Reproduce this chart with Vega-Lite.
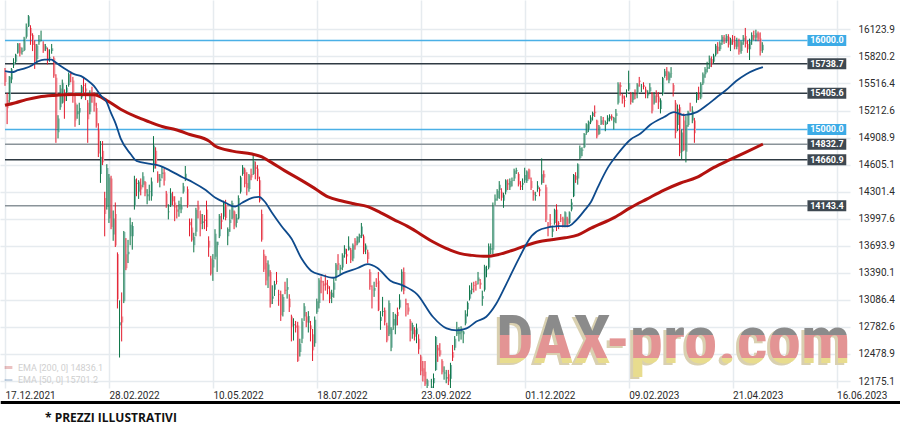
{
"$schema": "https://vega.github.io/schema/vega-lite/v6.json",
"width": 850, "height": 388,
"autosize": {"type": "none"},
"padding": {"left": 0, "top": 0, "right": 50, "bottom": 37},
"background": "white",
"config": {"view": {"stroke": null}, "font": "Roboto",
 "axis": {"domain": false, "ticks": false, "gridColor": "#e6ebef", "gridWidth": 1.5, "labelColor": "#2b2b2b", "labelFontSize": 10, "labelFont": "Roboto", "title": null, "labelOverlap": false, "labelFlush": false, "labelBound": false}},
"title": {"text": "* PREZZI ILLUSTRATIVI", "orient": "bottom", "anchor": "start", "frame": "group", "dx": 45, "offset": 9, "fontSize": 12, "fontWeight": "bold", "font": "Open Sans", "color": "#111111"},
"datasets": {
"candles": [
{"i":0,"o":15640,"h":15690,"l":15490,"c":15532},{"i":1,"o":15330,"h":15410,"l":15060,"c":15239},{"i":2,"o":15330,"h":15600,"l":15300,"c":15593},{"i":3,"o":15560,"h":15690,"l":15520,"c":15676},{"i":4,"o":15720,"h":15800,"l":15690,"c":15756},{"i":5,"o":15760,"h":15850,"l":15740,"c":15838},{"i":6,"o":15860,"h":15970,"l":15850,"c":15964},{"i":7,"o":15930,"h":15970,"l":15820,"c":15853},{"i":8,"o":15870,"h":15920,"l":15840,"c":15885},{"i":9,"o":15890,"h":16040,"l":15880,"c":16021},
{"i":10,"o":16040,"h":16190,"l":16020,"c":16152},{"i":11,"o":16160,"h":16285,"l":16150,"c":16271},{"i":12,"o":16140,"h":16170,"l":15950,"c":16053},{"i":13,"o":16060,"h":16080,"l":15880,"c":15948},{"i":14,"o":15960,"h":16000,"l":15680,"c":15768},{"i":15,"o":15790,"h":15960,"l":15740,"c":15942},{"i":16,"o":15980,"h":16060,"l":15950,"c":16010},{"i":17,"o":16030,"h":16110,"l":15990,"c":16031},{"i":18,"o":15960,"h":15990,"l":15860,"c":15883},{"i":19,"o":15900,"h":15960,"l":15880,"c":15933},
{"i":20,"o":15900,"h":15920,"l":15730,"c":15773},{"i":21,"o":15800,"h":15900,"l":15760,"c":15810},{"i":22,"o":15880,"h":15960,"l":15850,"c":15912},{"i":23,"o":15800,"h":15820,"l":15580,"c":15603},{"i":24,"o":15580,"h":15620,"l":14850,"c":15011},{"i":25,"o":14970,"h":15160,"l":14900,"c":15124},{"i":26,"o":15250,"h":15500,"l":15220,"c":15460},{"i":27,"o":15300,"h":15560,"l":15290,"c":15524},{"i":28,"o":15400,"h":15450,"l":15120,"c":15318},{"i":29,"o":15420,"h":15500,"l":15320,"c":15471},
{"i":30,"o":15500,"h":15640,"l":15480,"c":15619},{"i":31,"o":15630,"h":15650,"l":15530,"c":15613},{"i":32,"o":15550,"h":15590,"l":15300,"c":15368},{"i":33,"o":15300,"h":15390,"l":15030,"c":15100},{"i":34,"o":15170,"h":15280,"l":15120,"c":15206},{"i":35,"o":15190,"h":15300,"l":15050,"c":15242},{"i":36,"o":15360,"h":15500,"l":15340,"c":15482},{"i":37,"o":15500,"h":15590,"l":15390,"c":15490},{"i":38,"o":15460,"h":15520,"l":15330,"c":15425},{"i":39,"o":15300,"h":15330,"l":14850,"c":15114},
{"i":40,"o":15200,"h":15440,"l":15170,"c":15412},{"i":41,"o":15400,"h":15480,"l":15300,"c":15370},{"i":42,"o":15380,"h":15420,"l":15200,"c":15267},{"i":43,"o":15240,"h":15300,"l":15020,"c":15042},{"i":44,"o":15000,"h":15070,"l":14690,"c":14731},{"i":45,"o":14500,"h":14870,"l":14400,"c":14693},{"i":46,"o":14760,"h":14870,"l":14600,"c":14631},{"i":47,"o":14230,"h":14300,"l":13800,"c":14052},{"i":48,"o":14130,"h":14610,"l":14100,"c":14567},{"i":49,"o":14000,"h":14500,"l":13950,"c":14461},
{"i":50,"o":14450,"h":14480,"l":13880,"c":13905},{"i":51,"o":13820,"h":14090,"l":13750,"c":14000},{"i":52,"o":14050,"h":14180,"l":13680,"c":13698},{"i":53,"o":13600,"h":13620,"l":12990,"c":13094},{"i":54,"o":12800,"h":13080,"l":12439,"c":12835},{"i":55,"o":12900,"h":13170,"l":12620,"c":12831},{"i":56,"o":13070,"h":13860,"l":13050,"c":13848},{"i":57,"o":13600,"h":13780,"l":13420,"c":13442},{"i":58,"o":13600,"h":13760,"l":13500,"c":13628},{"i":59,"o":13800,"h":14010,"l":13700,"c":13929},
{"i":60,"o":13800,"h":13960,"l":13650,"c":13917},{"i":61,"o":14150,"h":14480,"l":14100,"c":14441},{"i":62,"o":14400,"h":14450,"l":14250,"c":14388},{"i":63,"o":14300,"h":14430,"l":14220,"c":14413},{"i":64,"o":14380,"h":14450,"l":14260,"c":14326},{"i":65,"o":14380,"h":14520,"l":14350,"c":14474},{"i":66,"o":14410,"h":14420,"l":14250,"c":14283},{"i":67,"o":14250,"h":14330,"l":14160,"c":14273},{"i":68,"o":14300,"h":14380,"l":14200,"c":14305},{"i":69,"o":14250,"h":14460,"l":14200,"c":14417},
{"i":70,"o":14560,"h":14925,"l":14520,"c":14820},{"i":71,"o":14760,"h":14800,"l":14560,"c":14605},{"i":72,"o":14500,"h":14530,"l":14400,"c":14415},{"i":73,"o":14420,"h":14500,"l":14350,"c":14446},{"i":74,"o":14500,"h":14580,"l":14450,"c":14518},{"i":75,"o":14520,"h":14560,"l":14370,"c":14424},{"i":76,"o":14280,"h":14310,"l":14120,"c":14152},{"i":77,"o":14070,"h":14160,"l":13990,"c":14078},{"i":78,"o":14150,"h":14340,"l":14130,"c":14284},{"i":79,"o":14250,"h":14300,"l":14150,"c":14193},
{"i":80,"o":14180,"h":14250,"l":13970,"c":14124},{"i":81,"o":14100,"h":14150,"l":14000,"c":14076},{"i":82,"o":14100,"h":14200,"l":14020,"c":14163},{"i":83,"o":14100,"h":14240,"l":14060,"c":14153},{"i":84,"o":14300,"h":14400,"l":14280,"c":14362},{"i":85,"o":14450,"h":14590,"l":14420,"c":14502},{"i":86,"o":14330,"h":14360,"l":14120,"c":14142},{"i":87,"o":13960,"h":14000,"l":13800,"c":13924},{"i":88,"o":13900,"h":14000,"l":13740,"c":13756},{"i":89,"o":13700,"h":13840,"l":13620,"c":13793},
{"i":90,"o":13850,"h":14120,"l":13800,"c":14098},{"i":91,"o":14150,"h":14200,"l":14000,"c":14098},{"i":92,"o":14050,"h":14090,"l":13800,"c":13939},{"i":93,"o":13950,"h":14050,"l":13880,"c":13970},{"i":94,"o":13990,"h":14040,"l":13880,"c":13971},{"i":95,"o":14100,"h":14200,"l":13860,"c":13903},{"i":96,"o":13750,"h":13800,"l":13570,"c":13674},{"i":97,"o":13550,"h":13580,"l":13360,"c":13381},{"i":98,"o":13450,"h":13600,"l":13300,"c":13534},{"i":99,"o":13570,"h":13880,"l":13540,"c":13828},
{"i":100,"o":13700,"h":13740,"l":13400,"c":13739},{"i":101,"o":13800,"h":14050,"l":13780,"c":14027},{"i":102,"o":13980,"h":14060,"l":13880,"c":13964},{"i":103,"o":14020,"h":14200,"l":13990,"c":14186},{"i":104,"o":14150,"h":14210,"l":13980,"c":14007},{"i":105,"o":13800,"h":13900,"l":13700,"c":13882},{"i":106,"o":13950,"h":14100,"l":13850,"c":13982},{"i":107,"o":14000,"h":14200,"l":13990,"c":14175},{"i":108,"o":14080,"h":14090,"l":13880,"c":13919},{"i":109,"o":13950,"h":14050,"l":13900,"c":14008},
{"i":110,"o":14000,"h":14260,"l":13990,"c":14231},{"i":111,"o":14300,"h":14480,"l":14280,"c":14462},{"i":112,"o":14500,"h":14600,"l":14480,"c":14575},{"i":113,"o":14550,"h":14570,"l":14350,"c":14388},{"i":114,"o":14400,"h":14520,"l":14260,"c":14340},{"i":115,"o":14330,"h":14500,"l":14300,"c":14485},{"i":116,"o":14500,"h":14560,"l":14430,"c":14460},{"i":117,"o":14500,"h":14710,"l":14490,"c":14653},{"i":118,"o":14580,"h":14640,"l":14440,"c":14556},{"i":119,"o":14560,"h":14600,"l":14420,"c":14445},
{"i":120,"o":14430,"h":14470,"l":14180,"c":14198},{"i":121,"o":14050,"h":14100,"l":13740,"c":13761},{"i":122,"o":13600,"h":13650,"l":13400,"c":13427},{"i":123,"o":13500,"h":13580,"l":13250,"c":13304},{"i":124,"o":13350,"h":13530,"l":13220,"c":13483},{"i":125,"o":13400,"h":13420,"l":13000,"c":13038},{"i":126,"o":13100,"h":13250,"l":13040,"c":13126},{"i":127,"o":13200,"h":13300,"l":13130,"c":13265},{"i":128,"o":13300,"h":13400,"l":13260,"c":13292},{"i":129,"o":13150,"h":13200,"l":13020,"c":13145},
{"i":130,"o":13150,"h":13190,"l":12850,"c":12913},{"i":131,"o":12950,"h":13150,"l":12900,"c":13118},{"i":132,"o":13200,"h":13290,"l":13150,"c":13186},{"i":133,"o":13200,"h":13330,"l":13100,"c":13231},{"i":134,"o":13100,"h":13150,"l":12950,"c":13003},{"i":135,"o":12900,"h":12920,"l":12620,"c":12784},{"i":136,"o":12800,"h":12880,"l":12630,"c":12813},{"i":137,"o":12800,"h":12850,"l":12720,"c":12773},{"i":138,"o":12800,"h":12840,"l":12390,"c":12401},{"i":139,"o":12500,"h":12650,"l":12450,"c":12594},
{"i":140,"o":12650,"h":12880,"l":12600,"c":12843},{"i":141,"o":12900,"h":13050,"l":12850,"c":13015},{"i":142,"o":12900,"h":12950,"l":12780,"c":12833},{"i":143,"o":12830,"h":12960,"l":12720,"c":12905},{"i":144,"o":12800,"h":12850,"l":12620,"c":12756},{"i":145,"o":12700,"h":12760,"l":12400,"c":12519},{"i":146,"o":12600,"h":12900,"l":12560,"c":12864},{"i":147,"o":12950,"h":13100,"l":12930,"c":13071},{"i":148,"o":13050,"h":13330,"l":12990,"c":13308},{"i":149,"o":13300,"h":13350,"l":13160,"c":13282},
{"i":150,"o":13270,"h":13300,"l":13080,"c":13246},{"i":151,"o":13280,"h":13370,"l":13190,"c":13254},{"i":152,"o":13250,"h":13310,"l":13150,"c":13210},{"i":153,"o":13180,"h":13240,"l":13050,"c":13097},{"i":154,"o":13120,"h":13200,"l":13050,"c":13166},{"i":155,"o":13200,"h":13330,"l":13110,"c":13282},{"i":156,"o":13350,"h":13500,"l":13300,"c":13484},{"i":157,"o":13500,"h":13600,"l":13420,"c":13479},{"i":158,"o":13430,"h":13480,"l":13370,"c":13449},{"i":159,"o":13450,"h":13610,"l":13420,"c":13587},
{"i":160,"o":13600,"h":13700,"l":13560,"c":13662},{"i":161,"o":13600,"h":13660,"l":13490,"c":13574},{"i":162,"o":13650,"h":13800,"l":13640,"c":13687},{"i":163,"o":13650,"h":13670,"l":13500,"c":13535},{"i":164,"o":13550,"h":13720,"l":13520,"c":13700},{"i":165,"o":13750,"h":13780,"l":13650,"c":13694},{"i":166,"o":13720,"h":13800,"l":13700,"c":13795},{"i":167,"o":13780,"h":13830,"l":13730,"c":13816},{"i":168,"o":13800,"h":13950,"l":13780,"c":13910},{"i":169,"o":13800,"h":13820,"l":13600,"c":13626},
{"i":170,"o":13650,"h":13720,"l":13600,"c":13697},{"i":171,"o":13620,"h":13650,"l":13500,"c":13544},{"i":172,"o":13400,"h":13430,"l":13200,"c":13230},{"i":173,"o":13200,"h":13250,"l":12990,"c":13195},{"i":174,"o":13190,"h":13290,"l":13120,"c":13221},{"i":175,"o":13280,"h":13330,"l":13230,"c":13271},{"i":176,"o":13300,"h":13400,"l":12960,"c":12971},{"i":177,"o":12850,"h":12960,"l":12750,"c":12893},{"i":178,"o":12950,"h":13120,"l":12900,"c":12961},{"i":179,"o":12970,"h":13000,"l":12800,"c":12835},
{"i":180,"o":12800,"h":12830,"l":12610,"c":12630},{"i":181,"o":12700,"h":13080,"l":12680,"c":13050},{"i":182,"o":12550,"h":12780,"l":12510,"c":12761},{"i":183,"o":12800,"h":12950,"l":12750,"c":12871},{"i":184,"o":12800,"h":12930,"l":12700,"c":12916},{"i":185,"o":12950,"h":13000,"l":12800,"c":12904},{"i":186,"o":13000,"h":13150,"l":12980,"c":13088},{"i":187,"o":13200,"h":13430,"l":13180,"c":13402},{"i":188,"o":13400,"h":13450,"l":13150,"c":13189},{"i":189,"o":13050,"h":13100,"l":12900,"c":13028},
{"i":190,"o":13000,"h":13050,"l":12920,"c":12956},{"i":191,"o":12850,"h":12870,"l":12620,"c":12741},{"i":192,"o":12700,"h":12830,"l":12650,"c":12803},{"i":193,"o":12750,"h":12780,"l":12630,"c":12671},{"i":194,"o":12700,"h":12820,"l":12600,"c":12767},{"i":195,"o":12650,"h":12700,"l":12480,"c":12531},{"i":196,"o":12450,"h":12470,"l":12240,"c":12284},{"i":197,"o":12320,"h":12400,"l":12170,"c":12228},{"i":198,"o":12280,"h":12400,"l":12120,"c":12140},{"i":199,"o":12120,"h":12200,"l":11990,"c":12183},
{"i":200,"o":12050,"h":12080,"l":11860,"c":11976},{"i":201,"o":12000,"h":12200,"l":11960,"c":12114},{"i":202,"o":12150,"h":12260,"l":12000,"c":12209},{"i":203,"o":12300,"h":12680,"l":12290,"c":12670},{"i":204,"o":12550,"h":12580,"l":12390,"c":12517},{"i":205,"o":12520,"h":12600,"l":12450,"c":12470},{"i":206,"o":12400,"h":12420,"l":12250,"c":12273},{"i":207,"o":12260,"h":12340,"l":12190,"c":12272},{"i":208,"o":12200,"h":12300,"l":12150,"c":12220},{"i":209,"o":12250,"h":12300,"l":12130,"c":12172},
{"i":210,"o":12200,"h":12380,"l":11950,"c":12356},{"i":211,"o":12500,"h":12580,"l":12400,"c":12437},{"i":212,"o":12550,"h":12680,"l":12520,"c":12649},{"i":213,"o":12700,"h":12840,"l":12680,"c":12765},{"i":214,"o":12700,"h":12780,"l":12620,"c":12741},{"i":215,"o":12720,"h":12790,"l":12640,"c":12767},{"i":216,"o":12700,"h":12740,"l":12600,"c":12731},{"i":217,"o":12820,"h":12970,"l":12800,"c":12931},{"i":218,"o":12980,"h":13070,"l":12900,"c":13053},{"i":219,"o":13100,"h":13250,"l":13080,"c":13195},
{"i":220,"o":13200,"h":13280,"l":13150,"c":13211},{"i":221,"o":13250,"h":13290,"l":13170,"c":13243},{"i":222,"o":13270,"h":13300,"l":13190,"c":13253},{"i":223,"o":13300,"h":13400,"l":13260,"c":13338},{"i":224,"o":13280,"h":13320,"l":13210,"c":13256},{"i":225,"o":13100,"h":13190,"l":13020,"c":13130},{"i":226,"o":13200,"h":13480,"l":13180,"c":13460},{"i":227,"o":13420,"h":13470,"l":13340,"c":13428},{"i":228,"o":13450,"h":13720,"l":13430,"c":13688},{"i":229,"o":13650,"h":13720,"l":13600,"c":13666},
{"i":230,"o":13650,"h":14180,"l":13600,"c":14146},{"i":231,"o":14200,"h":14270,"l":14150,"c":14224},{"i":232,"o":14230,"h":14330,"l":14200,"c":14313},{"i":233,"o":14320,"h":14420,"l":14220,"c":14379},{"i":234,"o":14300,"h":14340,"l":14200,"c":14234},{"i":235,"o":14200,"h":14290,"l":14120,"c":14266},{"i":236,"o":14300,"h":14440,"l":14270,"c":14431},{"i":237,"o":14400,"h":14440,"l":14320,"c":14380},{"i":238,"o":14350,"h":14450,"l":14320,"c":14422},{"i":239,"o":14420,"h":14460,"l":14360,"c":14428},
{"i":240,"o":14450,"h":14560,"l":14420,"c":14539},{"i":241,"o":14530,"h":14570,"l":14500,"c":14541},{"i":242,"o":14500,"h":14520,"l":14360,"c":14383},{"i":243,"o":14370,"h":14420,"l":14320,"c":14355},{"i":244,"o":14380,"h":14450,"l":14320,"c":14397},{"i":245,"o":14430,"h":14570,"l":14400,"c":14490},{"i":246,"o":14420,"h":14540,"l":14400,"c":14529},{"i":247,"o":14550,"h":14560,"l":14440,"c":14447},{"i":248,"o":14420,"h":14460,"l":14320,"c":14343},{"i":249,"o":14300,"h":14320,"l":14200,"c":14261},
{"i":250,"o":14250,"h":14300,"l":14200,"c":14264},{"i":251,"o":14330,"h":14420,"l":14300,"c":14370},{"i":252,"o":14330,"h":14350,"l":14250,"c":14306},{"i":253,"o":14400,"h":14675,"l":14380,"c":14497},{"i":254,"o":14500,"h":14540,"l":14400,"c":14460},{"i":255,"o":14350,"h":14380,"l":13960,"c":13987},{"i":256,"o":13900,"h":13960,"l":13800,"c":13893},{"i":257,"o":13950,"h":14050,"l":13900,"c":13943},{"i":258,"o":13850,"h":13920,"l":13790,"c":13885},{"i":259,"o":13950,"h":14110,"l":13930,"c":14098},
{"i":260,"o":14100,"h":14160,"l":13860,"c":13914},{"i":261,"o":13950,"h":13970,"l":13880,"c":13941},{"i":262,"o":14000,"h":14050,"l":13960,"c":13995},{"i":263,"o":14000,"h":14020,"l":13900,"c":13925},{"i":264,"o":13930,"h":14080,"l":13900,"c":14071},{"i":265,"o":14000,"h":14020,"l":13900,"c":13924},{"i":266,"o":13950,"h":14080,"l":13940,"c":14069},{"i":267,"o":14100,"h":14220,"l":14080,"c":14181},{"i":268,"o":14250,"h":14500,"l":14240,"c":14490},{"i":269,"o":14480,"h":14520,"l":14400,"c":14436},
{"i":270,"o":14450,"h":14620,"l":14380,"c":14610},{"i":271,"o":14680,"h":14820,"l":14660,"c":14792},{"i":272,"o":14760,"h":14800,"l":14700,"c":14775},{"i":273,"o":14800,"h":14960,"l":14790,"c":14948},{"i":274,"o":14960,"h":15070,"l":14940,"c":15058},{"i":275,"o":15000,"h":15100,"l":14970,"c":15086},{"i":276,"o":15080,"h":15160,"l":15060,"c":15135},{"i":277,"o":15150,"h":15200,"l":15100,"c":15187},{"i":278,"o":15200,"h":15270,"l":15140,"c":15181},{"i":279,"o":15100,"h":15110,"l":14900,"c":14920},
{"i":280,"o":14950,"h":15050,"l":14940,"c":15033},{"i":281,"o":15060,"h":15150,"l":15050,"c":15103},{"i":282,"o":15100,"h":15140,"l":15050,"c":15093},{"i":283,"o":15050,"h":15100,"l":14980,"c":15081},{"i":284,"o":15090,"h":15160,"l":15060,"c":15132},{"i":285,"o":15120,"h":15170,"l":15090,"c":15150},{"i":286,"o":15150,"h":15170,"l":15100,"c":15126},{"i":287,"o":15080,"h":15140,"l":15000,"c":15128},{"i":288,"o":15150,"h":15230,"l":15070,"c":15181},{"i":289,"o":15300,"h":15530,"l":15280,"c":15509},
{"i":290,"o":15500,"h":15530,"l":15380,"c":15476},{"i":291,"o":15380,"h":15400,"l":15290,"c":15345},{"i":292,"o":15330,"h":15380,"l":15250,"c":15321},{"i":293,"o":15400,"h":15450,"l":15360,"c":15412},{"i":294,"o":15450,"h":15660,"l":15430,"c":15523},{"i":295,"o":15400,"h":15420,"l":15280,"c":15308},{"i":296,"o":15330,"h":15420,"l":15300,"c":15397},{"i":297,"o":15400,"h":15450,"l":15340,"c":15380},{"i":298,"o":15400,"h":15520,"l":15350,"c":15506},{"i":299,"o":15550,"h":15590,"l":15480,"c":15534},
{"i":300,"o":15480,"h":15510,"l":15420,"c":15482},{"i":301,"o":15500,"h":15530,"l":15450,"c":15477},{"i":302,"o":15450,"h":15480,"l":15350,"c":15399},{"i":303,"o":15380,"h":15440,"l":15350,"c":15400},{"i":304,"o":15430,"h":15520,"l":15400,"c":15475},{"i":305,"o":15400,"h":15420,"l":15180,"c":15210},{"i":306,"o":15300,"h":15420,"l":15280,"c":15381},{"i":307,"o":15400,"h":15440,"l":15300,"c":15365},{"i":308,"o":15370,"h":15420,"l":15230,"c":15305},{"i":309,"o":15230,"h":15350,"l":15180,"c":15327},
{"i":310,"o":15400,"h":15590,"l":15380,"c":15578},{"i":311,"o":15600,"h":15680,"l":15580,"c":15654},{"i":312,"o":15660,"h":15700,"l":15550,"c":15559},{"i":313,"o":15550,"h":15650,"l":15520,"c":15631},{"i":314,"o":15630,"h":15700,"l":15580,"c":15633},{"i":315,"o":15500,"h":15520,"l":15370,"c":15428},{"i":316,"o":15300,"h":15330,"l":14900,"c":14959},{"i":317,"o":15050,"h":15280,"l":14980,"c":15232},{"i":318,"o":15250,"h":15280,"l":14700,"c":14735},{"i":319,"o":14750,"h":15000,"l":14660,"c":14967},
{"i":320,"o":15100,"h":15180,"l":14760,"c":14768},{"i":321,"o":14750,"h":15150,"l":14630,"c":15050},{"i":322,"o":15050,"h":15210,"l":15030,"c":15195},{"i":323,"o":15220,"h":15300,"l":15200,"c":15216},{"i":324,"o":15100,"h":15260,"l":15070,"c":15210},{"i":325,"o":15100,"h":15130,"l":14850,"c":14957},{"i":326,"o":15330,"h":15420,"l":15300,"c":15400},{"i":327,"o":15400,"h":15480,"l":15330,"c":15350},{"i":328,"o":15360,"h":15530,"l":15340,"c":15510},{"i":329,"o":15520,"h":15640,"l":15500,"c":15620},
{"i":330,"o":15620,"h":15700,"l":15580,"c":15680},{"i":331,"o":15680,"h":15760,"l":15640,"c":15700},{"i":332,"o":15700,"h":15830,"l":15680,"c":15800},{"i":333,"o":15790,"h":15820,"l":15700,"c":15740},{"i":334,"o":15760,"h":15850,"l":15740,"c":15830},{"i":335,"o":15840,"h":15960,"l":15820,"c":15940},{"i":336,"o":15930,"h":15980,"l":15850,"c":15880},{"i":337,"o":15900,"h":15990,"l":15880,"c":15970},{"i":338,"o":15980,"h":16060,"l":15950,"c":16040},{"i":339,"o":16030,"h":16060,"l":15960,"c":15990},
{"i":340,"o":16000,"h":16070,"l":15970,"c":16050},{"i":341,"o":16040,"h":16070,"l":15920,"c":15950},{"i":342,"o":15950,"h":16030,"l":15880,"c":16010},{"i":343,"o":16010,"h":16060,"l":15950,"c":15980},{"i":344,"o":15990,"h":16050,"l":15900,"c":15930},{"i":345,"o":15930,"h":16030,"l":15900,"c":16000},{"i":346,"o":15990,"h":16020,"l":15840,"c":15870},{"i":347,"o":15880,"h":16000,"l":15850,"c":15980},{"i":348,"o":15990,"h":16060,"l":15950,"c":16030},{"i":349,"o":16050,"h":16140,"l":15920,"c":15960},
{"i":350,"o":15960,"h":16000,"l":15860,"c":15900},{"i":351,"o":15900,"h":16020,"l":15780,"c":15990},{"i":352,"o":15990,"h":16090,"l":15950,"c":16060},{"i":353,"o":16060,"h":16110,"l":16000,"c":16030},{"i":354,"o":16030,"h":16120,"l":15990,"c":16080},{"i":355,"o":16080,"h":16100,"l":15990,"c":16010},{"i":356,"o":16020,"h":16090,"l":15830,"c":15880},{"i":357,"o":15890,"h":15980,"l":15860,"c":15950}
],
"ema": [
{"s":"EMA [200, 0] 14836.1","i":0,"v":15271},{"s":"EMA [200, 0] 14836.1","i":5,"v":15300},{"s":"EMA [200, 0] 14836.1","i":10,"v":15335},{"s":"EMA [200, 0] 14836.1","i":16,"v":15365},{"s":"EMA [200, 0] 14836.1","i":23,"v":15382},{"s":"EMA [200, 0] 14836.1","i":32,"v":15392},{"s":"EMA [200, 0] 14836.1","i":42,"v":15390},{"s":"EMA [200, 0] 14836.1","i":48,"v":15325},{"s":"EMA [200, 0] 14836.1","i":54.5,"v":15227},{"s":"EMA [200, 0] 14836.1","i":62,"v":15140},{"s":"EMA [200, 0] 14836.1","i":68,"v":15085},{"s":"EMA [200, 0] 14836.1","i":74.5,"v":15030},{"s":"EMA [200, 0] 14836.1","i":80.6,"v":14997},{"s":"EMA [200, 0] 14836.1","i":87.1,"v":14943},{"s":"EMA [200, 0] 14836.1","i":96.4,"v":14866},{"s":"EMA [200, 0] 14836.1","i":99.2,"v":14811},{"s":"EMA [200, 0] 14836.1","i":107.2,"v":14757},{"s":"EMA [200, 0] 14836.1","i":116.5,"v":14724},{"s":"EMA [200, 0] 14836.1","i":121.1,"v":14691},{"s":"EMA [200, 0] 14836.1","i":124.4,"v":14647},{"s":"EMA [200, 0] 14836.1","i":131.8,"v":14538},{"s":"EMA [200, 0] 14836.1","i":139.8,"v":14428},{"s":"EMA [200, 0] 14836.1","i":145.8,"v":14341},{"s":"EMA [200, 0] 14836.1","i":152.3,"v":14242},{"s":"EMA [200, 0] 14836.1","i":158.4,"v":14199},{"s":"EMA [200, 0] 14836.1","i":164.5,"v":14166},{"s":"EMA [200, 0] 14836.1","i":171,"v":14133},{"s":"EMA [200, 0] 14836.1","i":177,"v":14067},{"s":"EMA [200, 0] 14836.1","i":183.1,"v":13991},{"s":"EMA [200, 0] 14836.1","i":189.6,"v":13914},{"s":"EMA [200, 0] 14836.1","i":195.7,"v":13827},{"s":"EMA [200, 0] 14836.1","i":201.7,"v":13739},{"s":"EMA [200, 0] 14836.1","i":208.2,"v":13663},{"s":"EMA [200, 0] 14836.1","i":214.3,"v":13608},{"s":"EMA [200, 0] 14836.1","i":220.4,"v":13586},{"s":"EMA [200, 0] 14836.1","i":226.9,"v":13575},{"s":"EMA [200, 0] 14836.1","i":232.9,"v":13597},{"s":"EMA [200, 0] 14836.1","i":239,"v":13641},{"s":"EMA [200, 0] 14836.1","i":245.5,"v":13696},{"s":"EMA [200, 0] 14836.1","i":251.6,"v":13739},{"s":"EMA [200, 0] 14836.1","i":257.6,"v":13761},{"s":"EMA [200, 0] 14836.1","i":264.1,"v":13783},{"s":"EMA [200, 0] 14836.1","i":270.2,"v":13816},{"s":"EMA [200, 0] 14836.1","i":276.3,"v":13892},{"s":"EMA [200, 0] 14836.1","i":287.4,"v":14013},{"s":"EMA [200, 0] 14836.1","i":294.9,"v":14122},{"s":"EMA [200, 0] 14836.1","i":302.8,"v":14221},{"s":"EMA [200, 0] 14836.1","i":310.7,"v":14319},{"s":"EMA [200, 0] 14836.1","i":318.2,"v":14396},{"s":"EMA [200, 0] 14836.1","i":326.1,"v":14461},{"s":"EMA [200, 0] 14836.1","i":334,"v":14571},{"s":"EMA [200, 0] 14836.1","i":341.5,"v":14658},{"s":"EMA [200, 0] 14836.1","i":349.4,"v":14746},{"s":"EMA [200, 0] 14836.1","i":357.3,"v":14836},
{"s":"EMA [50, 0] 15701.2","i":0,"v":15654},{"s":"EMA [50, 0] 15701.2","i":3.3,"v":15643},{"s":"EMA [50, 0] 15701.2","i":6.1,"v":15665},{"s":"EMA [50, 0] 15701.2","i":9.3,"v":15686},{"s":"EMA [50, 0] 15701.2","i":12.6,"v":15719},{"s":"EMA [50, 0] 15701.2","i":15.4,"v":15763},{"s":"EMA [50, 0] 15701.2","i":18.6,"v":15785},{"s":"EMA [50, 0] 15701.2","i":21.9,"v":15785},{"s":"EMA [50, 0] 15701.2","i":23.3,"v":15763},{"s":"EMA [50, 0] 15701.2","i":26.6,"v":15708},{"s":"EMA [50, 0] 15701.2","i":29.4,"v":15665},{"s":"EMA [50, 0] 15701.2","i":32.6,"v":15621},{"s":"EMA [50, 0] 15701.2","i":35.9,"v":15599},{"s":"EMA [50, 0] 15701.2","i":38.7,"v":15555},{"s":"EMA [50, 0] 15701.2","i":41.9,"v":15490},{"s":"EMA [50, 0] 15701.2","i":45.2,"v":15380},{"s":"EMA [50, 0] 15701.2","i":48,"v":15304},{"s":"EMA [50, 0] 15701.2","i":49.8,"v":15194},{"s":"EMA [50, 0] 15701.2","i":52.2,"v":15063},{"s":"EMA [50, 0] 15701.2","i":54.5,"v":14899},{"s":"EMA [50, 0] 15701.2","i":59.2,"v":14724},{"s":"EMA [50, 0] 15701.2","i":62,"v":14647},{"s":"EMA [50, 0] 15701.2","i":68.5,"v":14614},{"s":"EMA [50, 0] 15701.2","i":73.1,"v":14592},{"s":"EMA [50, 0] 15701.2","i":77.8,"v":14538},{"s":"EMA [50, 0] 15701.2","i":83.9,"v":14461},{"s":"EMA [50, 0] 15701.2","i":88.5,"v":14407},{"s":"EMA [50, 0] 15701.2","i":94.6,"v":14319},{"s":"EMA [50, 0] 15701.2","i":99.2,"v":14232},{"s":"EMA [50, 0] 15701.2","i":103.9,"v":14177},{"s":"EMA [50, 0] 15701.2","i":108.5,"v":14133},{"s":"EMA [50, 0] 15701.2","i":111.8,"v":14177},{"s":"EMA [50, 0] 15701.2","i":116.5,"v":14232},{"s":"EMA [50, 0] 15701.2","i":119.7,"v":14243},{"s":"EMA [50, 0] 15701.2","i":122.5,"v":14188},{"s":"EMA [50, 0] 15701.2","i":125.8,"v":14067},{"s":"EMA [50, 0] 15701.2","i":130.4,"v":13914},{"s":"EMA [50, 0] 15701.2","i":135.1,"v":13772},{"s":"EMA [50, 0] 15701.2","i":139.8,"v":13550},{"s":"EMA [50, 0] 15701.2","i":144.4,"v":13411},{"s":"EMA [50, 0] 15701.2","i":149.1,"v":13367},{"s":"EMA [50, 0] 15701.2","i":154.7,"v":13335},{"s":"EMA [50, 0] 15701.2","i":159.8,"v":13389},{"s":"EMA [50, 0] 15701.2","i":166.3,"v":13444},{"s":"EMA [50, 0] 15701.2","i":171,"v":13488},{"s":"EMA [50, 0] 15701.2","i":175.6,"v":13444},{"s":"EMA [50, 0] 15701.2","i":181.7,"v":13302},{"s":"EMA [50, 0] 15701.2","i":187.7,"v":13247},{"s":"EMA [50, 0] 15701.2","i":194.3,"v":13149},{"s":"EMA [50, 0] 15701.2","i":201.7,"v":12897},{"s":"EMA [50, 0] 15701.2","i":208.2,"v":12766},{"s":"EMA [50, 0] 15701.2","i":212.9,"v":12744},{"s":"EMA [50, 0] 15701.2","i":217.6,"v":12766},{"s":"EMA [50, 0] 15701.2","i":222.2,"v":12843},{"s":"EMA [50, 0] 15701.2","i":226.9,"v":12897},{"s":"EMA [50, 0] 15701.2","i":231.5,"v":13039},{"s":"EMA [50, 0] 15701.2","i":236.2,"v":13258},{"s":"EMA [50, 0] 15701.2","i":242.3,"v":13553},{"s":"EMA [50, 0] 15701.2","i":248.3,"v":13805},{"s":"EMA [50, 0] 15701.2","i":253,"v":13882},{"s":"EMA [50, 0] 15701.2","i":260.9,"v":13914},{"s":"EMA [50, 0] 15701.2","i":265.5,"v":13914},{"s":"EMA [50, 0] 15701.2","i":268.8,"v":13969},{"s":"EMA [50, 0] 15701.2","i":273.5,"v":14100},{"s":"EMA [50, 0] 15701.2","i":276.3,"v":14188},{"s":"EMA [50, 0] 15701.2","i":279.5,"v":14352},{"s":"EMA [50, 0] 15701.2","i":284.2,"v":14571},{"s":"EMA [50, 0] 15701.2","i":288.8,"v":14724},{"s":"EMA [50, 0] 15701.2","i":294.9,"v":14888},{"s":"EMA [50, 0] 15701.2","i":299.6,"v":14954},{"s":"EMA [50, 0] 15701.2","i":304.2,"v":15052},{"s":"EMA [50, 0] 15701.2","i":310.7,"v":15140},{"s":"EMA [50, 0] 15701.2","i":315.4,"v":15194},{"s":"EMA [50, 0] 15701.2","i":320.1,"v":15161},{"s":"EMA [50, 0] 15701.2","i":326.1,"v":15194},{"s":"EMA [50, 0] 15701.2","i":330.8,"v":15271},{"s":"EMA [50, 0] 15701.2","i":335.4,"v":15358},{"s":"EMA [50, 0] 15701.2","i":340.1,"v":15446},{"s":"EMA [50, 0] 15701.2","i":344.7,"v":15544},{"s":"EMA [50, 0] 15701.2","i":349.4,"v":15621},{"s":"EMA [50, 0] 15701.2","i":354.1,"v":15675},{"s":"EMA [50, 0] 15701.2","i":357.3,"v":15701}
],
"levels": [
{"v":16000,"t":"16000.0","k":"b"},{"v":15738.7,"t":"15738.7","k":"d"},{"v":15405.6,"t":"15405.6","k":"d"},{"v":15000,"t":"15000.0","k":"b"},{"v":14832.7,"t":"14832.7","k":"g"},{"v":14660.9,"t":"14660.9","k":"d"},{"v":14143.4,"t":"14143.4","k":"g"}
],
"notes": [{"t":"DAX-pro.com"}]
},
"layer": [
{"data": {"name": "levels"}, "mark": {"type": "rule", "strokeWidth": 1.5},
 "encoding": {
  "x": {"datum": 0, "type": "quantitative", "scale": {"domain": [0, 396], "nice": false, "zero": false},
   "axis": {"values": [0,49,98,147,196,245,294,343,392], "tickCount": 40, "labelAlign": "left", "labelPadding": 2, "grid": true,
    "labelExpr": "datum.value==0?'17.12.2021':datum.value==49?'28.02.2022':datum.value==98?'10.05.2022':datum.value==147?'18.07.2022':datum.value==196?'23.09.2022':datum.value==245?'01.12.2022':datum.value==294?'09.02.2023':datum.value==343?'21.04.2023':'16.06.2023'"}},
  "x2": {"datum": 378.3},
  "y": {"field": "v", "type": "quantitative", "scale": {"domain": [12153, 16397.5], "nice": false, "zero": false},
   "axis": {"orient": "right", "values": [12175.1,12478.9,12782.6,13086.4,13390.1,13693.9,13997.6,14301.4,14605.1,14908.9,15212.6,15516.4,15820.2,16123.9], "tickCount": 40, "format": ".1f", "labelPadding": 8, "grid": true}},
  "color": {"condition": [{"test": "datum.k==='b'", "value": "#4ab0e6"}, {"test": "datum.k==='g'", "value": "#8a9399"}], "value": "#2f3a43"}
 }},
{"data": {"name": "candles"}, "mark": {"type": "bar", "width": 1.2, "xOffset": 1, "clip": true},
 "encoding": {
  "x": {"field": "i", "type": "quantitative", "scale": {"domain": [0, 396], "nice": false, "zero": false}},
  "y": {"field": "o", "type": "quantitative", "scale": {"domain": [12153, 16397.5], "nice": false, "zero": false}},
  "y2": {"field": "c"},
  "color": {"condition": {"test": "datum.c >= datum.o", "value": "#7fb7ad"}, "value": "#f1a1a8"}
 }},
{"data": {"name": "candles"}, "mark": {"type": "rule", "strokeWidth": 1, "clip": true},
 "encoding": {
  "x": {"field": "i", "type": "quantitative", "scale": {"domain": [0, 396], "nice": false, "zero": false}},
  "y": {"field": "l", "type": "quantitative", "scale": {"domain": [12153, 16397.5], "nice": false, "zero": false}},
  "y2": {"field": "h"},
  "color": {"condition": {"test": "datum.c >= datum.o", "value": "#0b7446"}, "value": "#e3192b"}
 }},
{"data": {"name": "ema"}, "mark": {"type": "line", "interpolate": "monotone", "clip": true},
 "encoding": {
  "x": {"field": "i", "type": "quantitative", "scale": {"domain": [0, 396], "nice": false, "zero": false}},
  "y": {"field": "v", "type": "quantitative", "scale": {"domain": [12153, 16397.5], "nice": false, "zero": false}},
  "color": {"field": "s", "type": "nominal", "scale": {"domain": ["EMA [200, 0] 14836.1", "EMA [50, 0] 15701.2"], "range": ["#b3120f", "#0e4a8c"]},
   "legend": {"orient": "bottom-left", "title": null, "labelColor": "#cfcfcf", "labelFontSize": 9, "symbolType": "stroke", "symbolSize": 60, "symbolOpacity": 0.25, "rowPadding": 1, "padding": 1, "offset": 2}},
  "strokeWidth": {"field": "s", "type": "nominal", "scale": {"domain": ["EMA [200, 0] 14836.1", "EMA [50, 0] 15701.2"], "range": [3, 1.8]}, "legend": null}
 }},
{"data": {"name": "levels"}, "mark": {"type": "bar", "size": 11},
 "encoding": {
  "x": {"datum": 378.3, "type": "quantitative", "scale": {"domain": [0, 396], "nice": false, "zero": false}},
  "x2": {"datum": 396.6},
  "y": {"field": "v", "type": "quantitative", "scale": {"domain": [12153, 16397.5], "nice": false, "zero": false}},
  "color": {"condition": {"test": "datum.k==='b'", "value": "#3cabe6"}, "value": "#3e4851"}
 }},
{"data": {"name": "levels"}, "mark": {"type": "text", "fontSize": 9, "fontWeight": "bold", "font": "Roboto", "color": "white", "align": "center", "baseline": "middle"},
 "encoding": {
  "x": {"datum": 387.5, "type": "quantitative", "scale": {"domain": [0, 396], "nice": false, "zero": false}},
  "y": {"field": "v", "type": "quantitative", "scale": {"domain": [12153, 16397.5], "nice": false, "zero": false}},
  "text": {"field": "t"}
 }},
{"data": {"name": "notes"}, "mark": {"type": "text", "font": "Liberation Sans Narrow, Roboto Condensed, DejaVu Sans Condensed", "fontSize": 67, "fontWeight": "bold", "align": "left", "baseline": "alphabetic", "dx": -3, "dy": 2, "color": "#d9d0b0"},
 "encoding": {
  "x": {"datum": 231.5, "type": "quantitative", "scale": {"domain": [0, 396], "nice": false, "zero": false}},
  "y": {"datum": 12372, "type": "quantitative", "scale": {"domain": [12153, 16397.5], "nice": false, "zero": false}},
  "text": {"field": "t"}
 }},
{"data": {"name": "notes"}, "mark": {"type": "text", "font": "Liberation Sans Narrow, Roboto Condensed, DejaVu Sans Condensed", "fontSize": 67, "fontWeight": "bold", "align": "left", "baseline": "alphabetic",
  "fill": {"gradient": "linear", "x1": 0, "y1": 0, "x2": 0, "y2": 1, "stops": [{"offset": 0, "color": "#8b8b8b"}, {"offset": 0.43, "color": "#8b8b8b"}, {"offset": 0.43, "color": "#e39494"}, {"offset": 0.72, "color": "#e39494"}, {"offset": 0.72, "color": "#e8dc8e"}, {"offset": 1, "color": "#e8dc8e"}]}},
 "encoding": {
  "x": {"datum": 231.5, "type": "quantitative", "scale": {"domain": [0, 396], "nice": false, "zero": false}},
  "y": {"datum": 12372, "type": "quantitative", "scale": {"domain": [12153, 16397.5], "nice": false, "zero": false}},
  "text": {"field": "t"}
 }},
{"data": {"name": "notes"}, "mark": {"type": "rule", "strokeWidth": 3, "color": "#000000"},
 "encoding": {
  "x": {"datum": -2, "type": "quantitative", "scale": {"domain": [0, 396], "nice": false, "zero": false}},
  "x2": {"datum": 425},
  "y": {"datum": 11935, "type": "quantitative", "scale": {"domain": [12153, 16397.5], "nice": false, "zero": false}}
 }}
]
}
